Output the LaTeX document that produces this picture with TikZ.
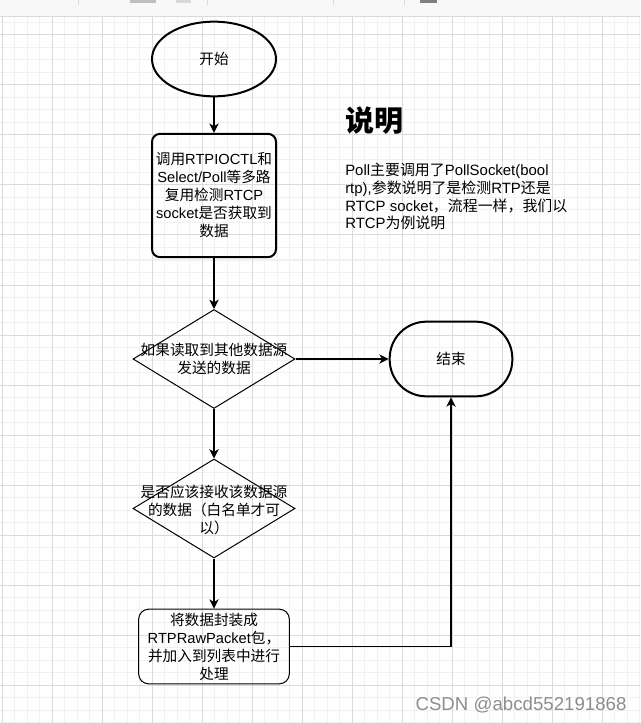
\documentclass[tikz,border=0pt]{standalone}
\usepackage{fontspec}
\setmainfont{Liberation Sans}
\newfontfamily\zhfont{Noto Sans CJK SC}
\newfontfamily\enfont{Liberation Sans}
% switch to the CJK family for ideographs and full-width punctuation
\XeTeXinterchartokenstate=1
\newXeTeXintercharclass\zhclass
\newcount\zhcode
\zhcode="4E00
\loop\XeTeXcharclass\zhcode=\zhclass\advance\zhcode by 1 \ifnum\zhcode<"A000 \repeat
\zhcode="3000
\loop\XeTeXcharclass\zhcode=\zhclass\advance\zhcode by 1 \ifnum\zhcode<"3040 \repeat
\zhcode="FF00
\loop\XeTeXcharclass\zhcode=\zhclass\advance\zhcode by 1 \ifnum\zhcode<"FFF0 \repeat
\XeTeXinterchartoks 0 \zhclass = {\zhfont}
\XeTeXinterchartoks 4095 \zhclass = {\zhfont}
\XeTeXinterchartoks \zhclass 0 = {\enfont}
\usepackage{xcolor}
\usepackage{tikz}
\usetikzlibrary{arrows.meta,shapes.geometric}

\definecolor{gridmajor}{HTML}{DADADA}
\definecolor{gridminor}{HTML}{F1F1F1}
\definecolor{barbg}{HTML}{F8F8F8}
\definecolor{markgray}{HTML}{8E8E8E}

\tikzset{
  txt/.style={align=center,inner sep=0pt,font=\fontsize{11pt}{13.5pt}\selectfont},
  flow/.style={line width=0.9pt,-{Stealth[length=7pt,width=7pt,inset=2pt]}},
  startnode/.style={ellipse,draw,line width=1.5pt,minimum width=93pt,minimum height=56pt,inner sep=0pt,txt},
  boxnode/.style={rectangle,draw,line width=1.5pt,rounded corners=6pt,minimum width=93pt,minimum height=92.5pt,inner sep=0pt,txt},
  dianode/.style={diamond,draw,line width=0.75pt,minimum width=121.5pt,minimum height=74.25pt,inner sep=0pt},
  endnode/.style={rectangle,draw,line width=1.5pt,rounded corners=27.5pt,minimum width=92pt,minimum height=56pt,inner sep=0pt,txt},
  packnode/.style={rectangle,draw,line width=0.75pt,rounded corners=7.5pt,minimum width=113pt,minimum height=56pt,inner sep=0pt,txt},
}

\begin{document}
\begin{tikzpicture}[x=0.75pt,y=-0.75pt]
  \useasboundingbox (0,0) rectangle (640,723);
  \fill[white] (0,0) rectangle (640,723);
  % canvas grid
  \foreach \i in {0,...,51} \draw[gridminor,line width=0.75pt] (2+12.5*\i,17) -- (2+12.5*\i,723);
  \foreach \i in {0,...,56} \draw[gridminor,line width=0.75pt] (0,22.5+12.5*\i) -- (640,22.5+12.5*\i);
  \foreach \i in {0,...,12} \draw[gridmajor,line width=0.75pt] (2+50*\i,17) -- (2+50*\i,723);
  \foreach \i in {0,...,13} \draw[gridmajor,line width=0.75pt] (0,35+50*\i) -- (640,35+50*\i);
  % toolbar strip
  \fill[barbg] (0,0) rectangle (640,16);
  \draw[gridmajor,line width=0.75pt] (0,16.5) -- (640,16.5);
  \foreach \sx in {78,207,333,404} \draw[gridmajor,line width=0.75pt] (\sx,0) -- (\sx,5);
  \fill[black!25] (130,0) rectangle (156,3);
  \fill[black!15] (176,0) rectangle (191,3);
  \fill[black!50] (420,0) rectangle (437,3);

  \node[startnode] (start) at (214,59) {开始};
  \node[boxnode] (check) at (214,195.5) {调用RTPIOCTL和\\Select/Poll等多路\\复用检测RTCP\\socket是否获取到\\数据};
  \node[dianode] (other) at (214,359) {};
  \node[txt] (othertext) at (214,359) {如果读取到其他数据源\\发送的数据};
  \node[endnode] (finish) at (451,359) {结束};
  \node[dianode] (allow) at (214,508.5) {};
  \node[txt] (allowtext) at (214,509.5) {是否应该接收该数据源\\的数据（白名单才可\\以）};
  \node[packnode] (pack) at (214,646.5) {将数据封装成\\RTPRawPacket包，\\并加入到列表中进行\\处理};

  \draw[flow] (start) -- (check);
  \draw[flow] (check) -- (other);
  \draw[flow] (other) -- (finish);
  \draw[flow] (other) -- (allow);
  \draw[flow] (allow) -- (pack);
  \draw[flow] (pack.east) -| (finish.south);

  \node[anchor=west,inner sep=0pt,font=\fontsize{21.75pt}{24pt}\selectfont\bfseries] (title) at (345,121) {说明};
  \node[anchor=north west,align=left,inner sep=0pt,font=\fontsize{11.2pt}{13.3pt}\selectfont] (note) at (345,163) {Poll主要调用了PollSocket(bool\\rtp),参数说明了是检测RTP还是\\RTCP socket，流程一样，我们以\\RTCP为例说明};
  \node[text=markgray,font=\enfont\fontsize{14pt}{16pt}\selectfont] (mark) at (521,705) {CSDN @abcd552191868};
\end{tikzpicture}
\end{document}
